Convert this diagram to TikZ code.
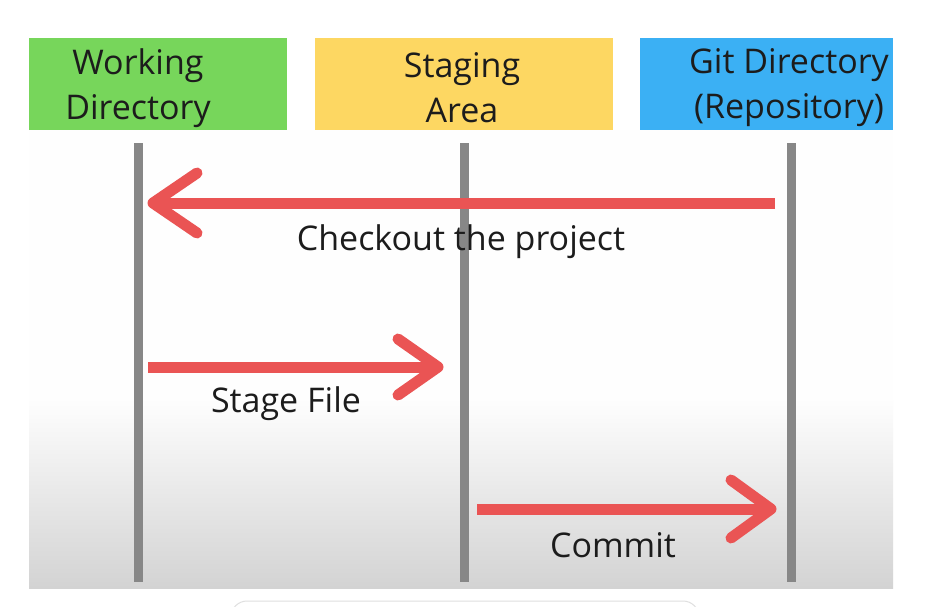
\documentclass[tikz,border=0pt]{standalone}
\usepackage{fontspec}
\setmainfont{Open Sans}
\definecolor{wdgreen}{HTML}{77D65B}
\definecolor{sayellow}{HTML}{FDD762}
\definecolor{gdblue}{HTML}{3BB0F4}
\definecolor{arrred}{HTML}{EA5454}
\definecolor{lanegray}{HTML}{878787}
\definecolor{txt}{HTML}{1C1C1C}
\definecolor{panelbot}{HTML}{D3D3D3}
\begin{document}
\begin{tikzpicture}[x=1pt,y=-1pt,
  htext/.style={font=\fontsize{34}{45}\selectfont, text=txt, align=center},
  lbl/.style={font=\fontsize{34}{40}\selectfont, text=txt},
  lane/.style={draw=lanegray, line width=9pt},
  shaft/.style={draw=arrred, line width=11pt},
  barb/.style={draw=arrred, line width=11pt, line cap=round, line join=round}]
\useasboundingbox (0,0) rectangle (937,606);
\fill[white] (0,0) rectangle (937,606);
% panel
\fill[white!99!gray] (29,130) rectangle (893,400);
\shade[top color=white!99!gray, bottom color=panelbot] (29,400) rectangle (893,588);
\draw[gray!25, line width=1pt, rounded corners=16pt] (231,640) -- (231,601) -- (699,601) -- (699,640);
% headers
\fill[wdgreen] (29,38) rectangle (287,130);
\fill[sayellow] (315,38) rectangle (613,130);
\fill[gdblue] (640,38) rectangle (893,130);
\node[htext] (wd) at (138,88) {Working\\Directory};
\node[htext] (sa) at (462,88) {Staging\\Area};
\node[htext] (gd) at (789,88) {Git Directory\\(Repository)};
% lanes
\coordinate (wdt) at (138,143); \coordinate (wdb) at (138,582);
\coordinate (sat) at (464,143); \coordinate (sab) at (464,582);
\coordinate (gdt) at (791,143); \coordinate (gdb) at (791,582);
\draw[lane] (wdt) -- (wdb);
\draw[lane] (sat) -- (sab);
\draw[lane] (gdt) -- (gdb);
% checkout arrow
\coordinate (cos) at (775,203); \coordinate (coe) at (153,203);
\draw[shaft] (cos) -- (coe);
\draw[barb] (coe) ++(44,-30) -- (coe) -- ++(44,30);
\node[lbl] (colbl) at (461,242) {Checkout the project};
% stage arrow
\coordinate (sfs) at (148,367); \coordinate (sfe) at (438,367);
\draw[shaft] (sfs) -- (sfe);
\draw[barb] (sfe) ++(-40,-28) -- (sfe) -- ++(-40,28);
\node[lbl] (sflbl) at (286,404) {Stage File};
% commit arrow
\coordinate (cms) at (477,509); \coordinate (cme) at (771,509);
\draw[shaft] (cms) -- (cme);
\draw[barb] (cme) ++(-40,-29) -- (cme) -- ++(-40,29);
\node[lbl] (cmlbl) at (613,545) {Commit};
\end{tikzpicture}
\end{document}
